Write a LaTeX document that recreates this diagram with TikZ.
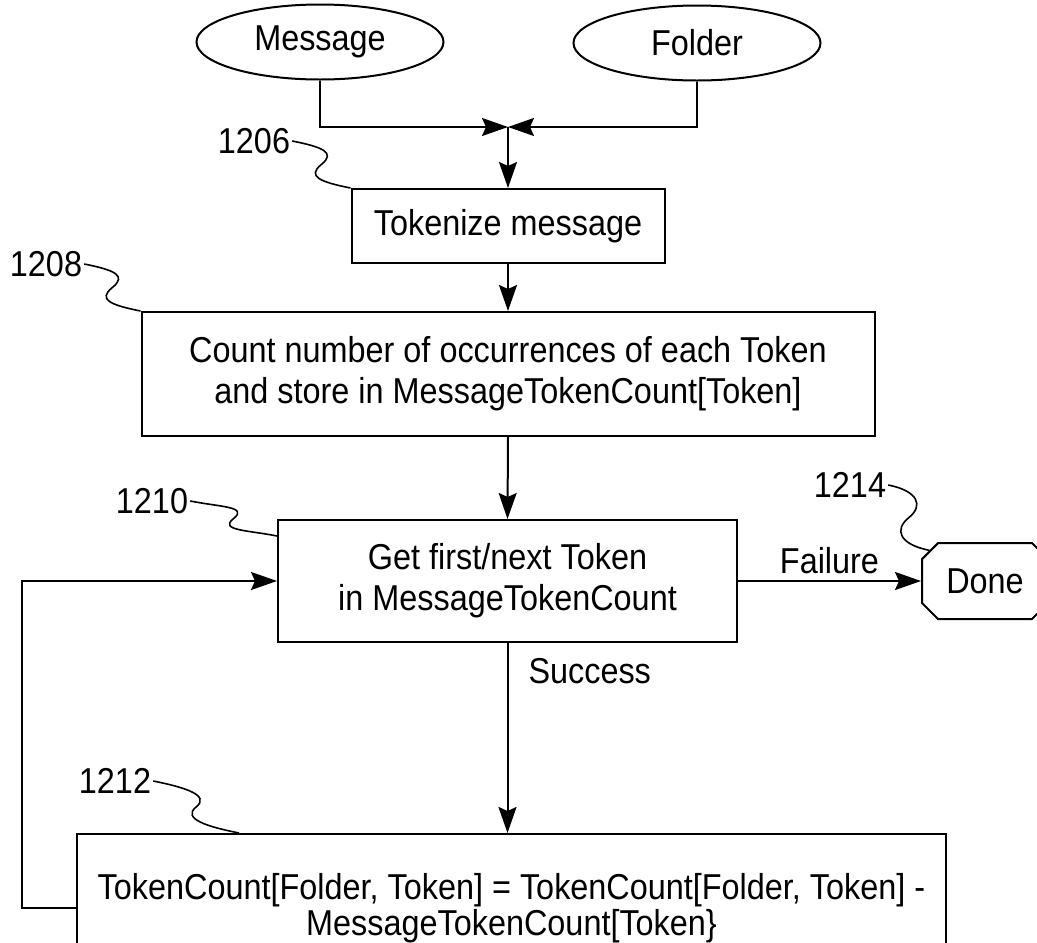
\documentclass[tikz,border=0pt]{standalone}
\usepackage{fontspec}
\setmainfont{Liberation Sans}[FakeStretch=0.9]
\usetikzlibrary{shapes.geometric,shapes.misc,arrows.meta,calc}

\tikzset{
  flowbox/.style={draw, line width=2pt, rectangle, align=center, inner sep=0pt},
  inputbox/.style={draw, line width=2pt, ellipse, inner sep=0pt,
    minimum width=247pt, minimum height=75pt},
  endbox/.style={draw, line width=2pt, chamfered rectangle,
    chamfered rectangle xsep=26pt, inner sep=0pt,
    minimum width=126pt, minimum height=76pt},
  refnum/.style={inner sep=2pt},
  link/.style={line width=2pt, -{Stealth[length=26pt,width=18pt,inset=4pt]}},
  leadline/.style={line width=1.6pt}
}
\newcommand{\leadto}[2]{\draw [leadline] (#1) .. controls +(30,6) and +(15,-12)
  .. ($(#1)!.5!(#2)$) .. controls +(-15,12) and +(-30,-6) .. (#2);}

\begin{document}
\begin{tikzpicture}[x=1pt, y=-1pt, font=\fontsize{36pt}{41pt}\selectfont]
\useasboundingbox (0,0) rectangle (1037,943);

\node [inputbox] (msg) at (320,42) {Message};
\node [inputbox] (fld) at (697,43) {Folder};
\coordinate (jn) at (508,127);

\node [flowbox, minimum width=313pt, minimum height=74pt] (tok) at (508,226) {Tokenize message};
\node [flowbox, minimum width=733pt, minimum height=124pt] (cnt) at (508,374)
  {Count number of occurrences of each Token\\and store in MessageTokenCount[Token]};
\node [flowbox, minimum width=459pt, minimum height=122pt] (get) at (507.5,581)
  {Get first/next Token\\in MessageTokenCount};
\node [endbox] (done) at (985,581) {Done};
\node [flowbox, minimum width=869pt, minimum height=148pt,
  font=\fontsize{36pt}{36pt}\selectfont] (upd) at (511.5,908)
  {TokenCount[Folder, Token] = TokenCount[Folder, Token] -\\MessageTokenCount[Token\}};

% reference numbers
\node [refnum] (n1206) at (254,141) {1206};
\node [refnum] (n1208) at (46,264) {1208};
\node [refnum] (n1210) at (152,501) {1210};
\node [refnum] (n1214) at (850,485) {1214};
\node [refnum] (n1212) at (115,781) {1212};
\coordinate (t1210) at ($(get.north west)+(0,17)$);
\coordinate (t1212) at ($(upd.north west)+(163,0)$);

\leadto{n1206.east}{tok.north west}
\leadto{n1208.east}{cnt.north west}
\leadto{n1210.east}{t1210}
\leadto{n1214.east}{done.north west}
\leadto{n1212.east}{t1212}

% connectors
\draw [link] (msg.south) |- (jn);
\draw [link] (fld.south) |- (jn);
\draw [link] (jn) -- (tok.north);
\draw [link] (tok.south) -- (cnt.north);
\draw [link] (cnt.south) -- (get.north);
\draw [link] (get.east) -- node [above=4pt, refnum] {Failure} (done.west);
\draw [link] (get.south) -- node [pos=0.15, anchor=west, xshift=18pt, refnum] {Success} (get.south |- upd.north);
\draw [link] (upd.west) -- ++(-54,0) |- (get.west);
\end{tikzpicture}
\end{document}
